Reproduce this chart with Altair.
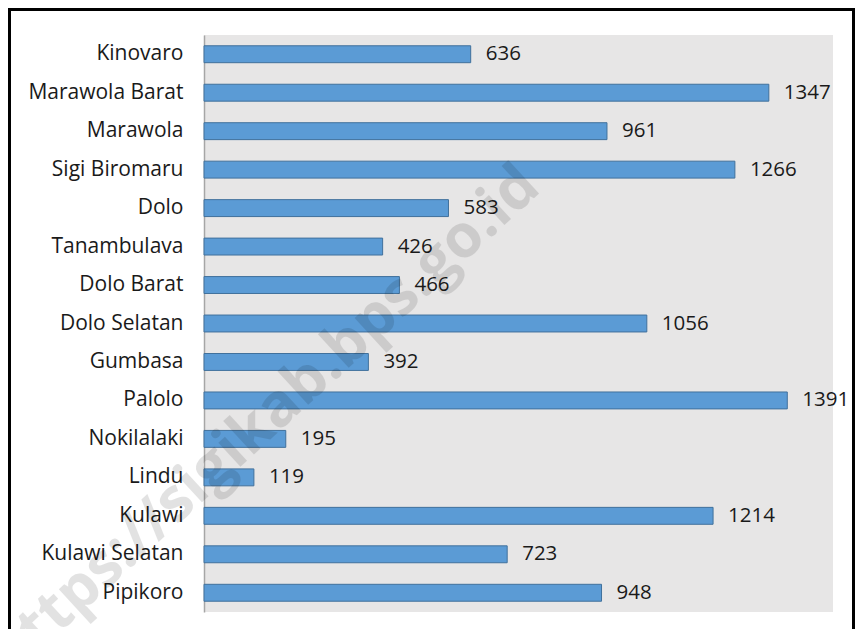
import altair as alt
import pandas as pd

categories = ["Kinovaro", "Marawola Barat", "Marawola", "Sigi Biromaru", "Dolo",
              "Tanambulava", "Dolo Barat", "Dolo Selatan", "Gumbasa", "Palolo",
              "Nokilalaki", "Lindu", "Kulawi", "Kulawi Selatan", "Pipikoro"]
values = [636, 1347, 961, 1266, 583, 426, 466, 1056, 392, 1391, 195, 119, 1214, 723, 948]
watermark = "https://sigikab.bps.go.id"

df = pd.DataFrame({"kecamatan": categories, "jumlah": values})
wm = pd.DataFrame({"t": [watermark]})

FONT = "Open Sans"

y_enc = alt.Y("kecamatan:N", sort=categories, title=None,
              scale=alt.Scale(paddingInner=0.56, paddingOuter=0.28),
              axis=alt.Axis(ticks=False, labelFontSize=21, labelPadding=21,
                            labelColor="#1a1a1a", labelFont=FONT,
                            domainColor="#a6a6a6", domainWidth=1.5, grid=False))
x_enc = alt.X("jumlah:Q", title=None, axis=None, scale=alt.Scale(domain=[0, 1500]))

base = alt.Chart(df)
bars = base.mark_bar(color="#5b9bd5", stroke="#41719c", strokeWidth=1).encode(x=x_enc, y=y_enc)
labels = base.mark_text(align="left", baseline="middle", dx=15, fontSize=20.5,
                        font=FONT, color="#1a1a1a").encode(x=x_enc, y=y_enc, text="jumlah:Q")

mark_wm = alt.Chart(wm).mark_text(align="center", baseline="middle", angle=317.5,
                                  fontSize=60, fontWeight="bold", font=FONT,
                                  color="#000000", opacity=0.11).encode(
    x=alt.value(60), y=alt.value(386), text="t:N")

frame = alt.Chart(wm).mark_rect(filled=False, stroke="#000000", strokeWidth=3).encode(
    x=alt.value(-194.5), x2=alt.value(649.5), y=alt.value(-25.5), y2=alt.value(660))

chart = alt.layer(bars, labels, mark_wm, frame).properties(
    width=629, height=577,
    padding={"left": 196, "top": 27, "right": 22, "bottom": 17},
    autosize=alt.AutoSizeParams(type="none"),
    background="#ffffff",
).configure_view(stroke=None, fill="#e7e6e6")

chart.save("out.html", embed_options={"renderer": "svg", "actions": False})
